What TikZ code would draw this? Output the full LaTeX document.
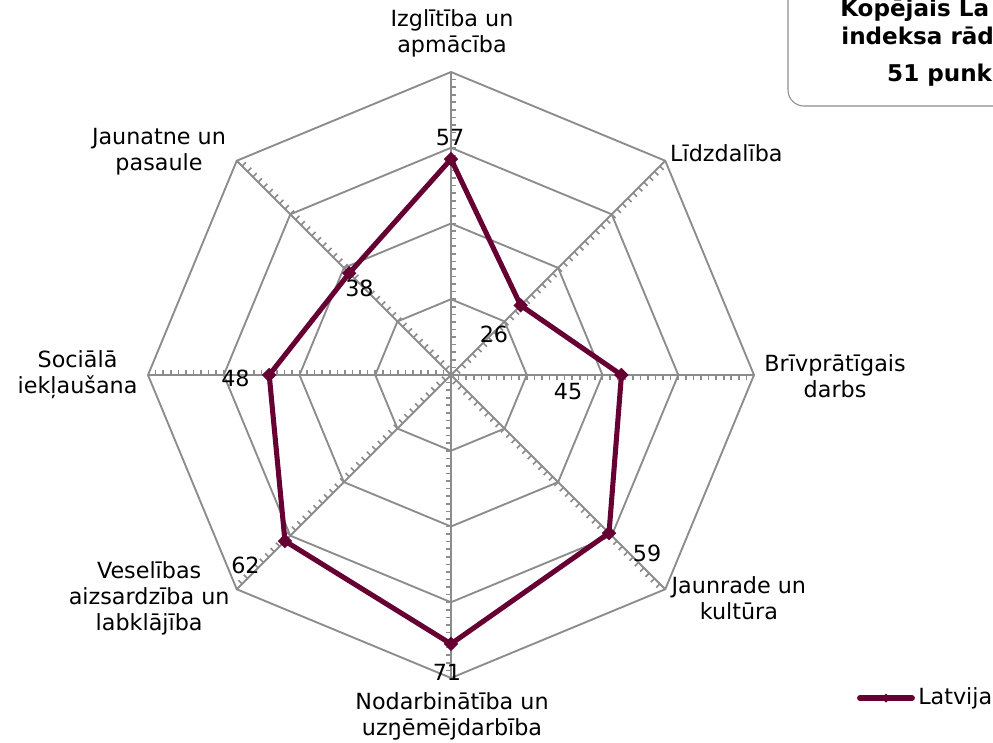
\documentclass[tikz,border=0pt]{standalone}
\usepackage{fontspec}
\setmainfont{DejaVu Sans}
\usetikzlibrary{shapes.geometric}
\definecolor{plum}{RGB}{102,0,51}
\definecolor{webgray}{RGB}{140,140,140}
\tikzset{
  web/.style={webgray, line width=1.4pt},
  tick/.style={webgray, line width=1.2pt},
  serie/.style={plum, line width=3.8pt, line join=miter},
  dot/.style={diamond, fill=plum, inner sep=0pt, minimum size=11pt},
  lbl/.style={align=center, inner sep=0pt, font=\fontsize{16.7}{19.5}\selectfont},
  val/.style={inner sep=0pt, font=\fontsize{16.7}{19}\selectfont},
  ttl/.style={inner sep=0pt, font=\fontsize{17.3}{19}\selectfont\bfseries},
}
\begin{document}
\begin{tikzpicture}[x=2.8406pt, y=2.8406pt]
\useasboundingbox (-119.08,-97.16) rectangle (143.1,99.01);
\clip (-119.08,-97.16) rectangle (143.1,99.01);

% web
\foreach \r in {20,40,60,80}
{
\draw[web] (0:\r) \foreach \a in {45,90,...,315}{--(\a:\r)} -- cycle;
}
\foreach \a in {0,45,...,315}
{
\draw[web] (0,0)--(\a:80);
\foreach \t in {2,4,...,78}
{
\draw[tick] (\a:\t)--++(\a-90:1.4);
}
}

% axis labels
\node[lbl] (izg) at (0.26,90.1) {Izglītība un\\apmācība};
\node[lbl] (lid) at (72.7,58.6) {Līdzdalība};
\node[lbl] (bri) at (101.4,-0.26) {Brīvprātīgais\\darbs};
\node[lbl] (jau) at (76.0,-58.9) {Jaunrade un\\kultūra};
\node[lbl] (nod) at (0.26,-90.0) {Nodarbinātība un\\uzŋēmējdarbība};
\node[lbl] (ves) at (-79.7,-59.1) {Veselības\\aizsardzība un\\labklājība};
\node[lbl] (soc) at (-98.6,0) {Sociālā\\iekļaušana};
\node[lbl] (jpa) at (-77.1,58.9) {Jaunatne un\\pasaule};

% data
\coordinate (p1) at (90:57);
\coordinate (p2) at (45:26);
\coordinate (p3) at (0:45);
\coordinate (p4) at (-45:59);
\coordinate (p5) at (-90:71);
\coordinate (p6) at (-135:62);
\coordinate (p7) at (180:48);
\coordinate (p8) at (135:38);
\draw[serie] (p1)--(p2)--(p3)--(p4)--(p5)--(p6)--(p7)--(p8)--cycle;
\foreach \p in {p1,p2,p3,p4,p5,p6,p7,p8}
{
\node[dot] (m\p) at (\p) {};
}

\node[val] (v57) at (-0.26,62.57) {57};
\node[val] (v26) at (11.35,10.83) {26};
\node[val] (v45) at (30.9,-4.49) {45};
\node[val] (v59) at (51.75,-47.0) {59};
\node[val] (v71) at (-1.06,-78.4) {71};
\node[val] (v62) at (-54.26,-50.4) {62};
\node[val] (v48) at (-56.9,-0.8) {48};
\node[val] (v38) at (-24.16,22.97) {38};

% title box
\draw[webgray, line width=.8pt, rounded corners=12pt] (88.98,71.02) rectangle (170,110);
\node[ttl, anchor=base west] (t1) at (102.7,94.6) {Kopējais La};
\node[ttl, anchor=base west] (t2) at (103.0,87.3) {indeksa rād};
\node[ttl, anchor=base west] (t3) at (115.1,77.4) {51 punk};

% legend
\coordinate (lega) at (108,-85.3);
\coordinate (legb) at (121.7,-85.3);
\draw[serie, line width=4.5pt, line cap=round] (lega)--(legb);
\node[dot, minimum size=7pt] (legm) at (114.85,-85.3) {};
\node[val, anchor=west] (legt) at (123.3,-85.3) {Latvija};
\end{tikzpicture}
\end{document}
